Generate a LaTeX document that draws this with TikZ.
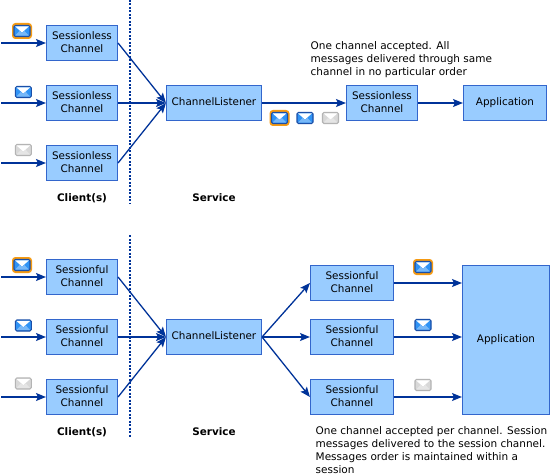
\documentclass[tikz,border=0pt]{standalone}
\usepackage{fontspec}
\setmainfont{DejaVu Sans}
\usetikzlibrary{arrows.meta}
\definecolor{boxfill}{HTML}{99CCFF}
\definecolor{boxline}{HTML}{3366CC}
\definecolor{conn}{HTML}{003399}
\definecolor{mailblue}{HTML}{2F93F5}
\definecolor{mailedge}{HTML}{1A4FA8}
\definecolor{ring}{HTML}{F59A12}
\definecolor{grayedge}{HTML}{B4B4B4}
\definecolor{grayfill}{HTML}{D8D8D8}
\tikzset{
  chan/.style={draw=boxline,line width=1.1pt,fill=boxfill,inner sep=0pt,align=center,font=\fontsize{10.4}{13}\selectfont,minimum width=71pt,minimum height=35pt,text depth=2pt},
  lst/.style={chan,minimum width=95pt},
  conn/.style={draw=conn,line width=1.3pt,-{Stealth[length=10pt,width=8pt,inset=2pt]}},
  divider/.style={draw=conn,line width=1.2pt,dash pattern=on 2pt off 1.5pt},
  lab/.style={font=\bfseries\fontsize{10.4}{12}\selectfont,inner sep=0pt},
  note/.style={font=\fontsize{10.5}{13}\selectfont,align=left,inner sep=0pt,anchor=north west},
  pics/mail/.style n args={3}{code={
    \draw[draw=#1,fill=#2,line width=1.1pt,rounded corners=1.5pt] (-8,-5.5) rectangle (8,5.5);
    \fill[#3] (-7,-4.7) -- (7,-4.7) -- (0,1.5) -- cycle;
    \fill[#3,opacity=.35] (-7,4.7) -- (-2.5,0) -- (0,2) -- (2.5,0) -- (7,4.7) -- cycle;
  }},
  pics/mailhi/.style={code={
    \draw[draw=ring,fill=ring,line width=1pt,rounded corners=3pt] (-9.5,-7.5) rectangle (9.5,7.5);
    \pic {mail={mailedge}{mailblue}{white}};
  }},
}
\begin{document}
\begin{tikzpicture}[x=1pt,y=-1pt]
\useasboundingbox (0,0) rectangle (552,476);
\fill[white] (0,0) rectangle (552,476);
% top
\node[chan] (a1) at (82,43) {Sessionless\\Channel};
\node[chan] (a2) at (82,103) {Sessionless\\Channel};
\node[chan] (a3) at (82,163) {Sessionless\\Channel};
\node[lst] (al) at (214,103) {ChannelListener};
\node[chan] (as) at (382,103) {Sessionless\\Channel};
\node[chan,minimum width=83pt] (aa) at (505,103) {Application};
\coordinate (s1) at (1,43); \coordinate (s2) at (1,103); \coordinate (s3) at (1,163);
\draw[conn] (s1) -- (a1.west);
\draw[conn] (s2) -- (a2.west);
\draw[conn] (s3) -- (a3.west);
\draw[conn] (a1.east) -- (al.west);
\draw[conn] (a2.east) -- (al.west);
\draw[conn] (a3.east) -- (al.west);
\draw[conn] (al.east) -- (as.west);
\draw[conn] (as.east) -- (aa.west);
\coordinate (d1) at (130,0); \coordinate (d2) at (130,204);
\draw[divider] (d1) -- (d2);
\node[lab] (c1) at (82,198) {Client(s)};
\node[lab] (v1) at (214,198) {Service};
\node[note] (n1) at (310.5,41) {One channel accepted. All\\messages delivered through same\\channel in no particular order};
\pic at (22,31) {mailhi};
\pic at (23.3,92) {mail={mailedge}{mailblue}{white}};
\pic at (23.3,150) {mail={grayedge}{grayfill}{white}};
\pic at (279.5,118) {mailhi};
\pic at (305,118) {mail={mailedge}{mailblue}{white}};
\pic at (330.5,118) {mail={grayedge}{grayfill}{white}};
% bottom
\node[chan] (b1) at (82,277) {Sessionful\\Channel};
\node[chan] (b2) at (82,337) {Sessionful\\Channel};
\node[chan] (b3) at (82,397) {Sessionful\\Channel};
\node[lst] (bl) at (214,337) {ChannelListener};
\node[chan,minimum width=83pt] (r1) at (352,283) {Sessionful\\Channel};
\node[chan,minimum width=83pt] (r2) at (352,337) {Sessionful\\Channel};
\node[chan,minimum width=83pt] (r3) at (352,397) {Sessionful\\Channel};
\node[chan,minimum width=87pt,minimum height=149pt] (ba) at (506,340) {Application};
\coordinate (t1) at (1,277); \coordinate (t2) at (1,337); \coordinate (t3) at (1,397);
\draw[conn] (t1) -- (b1.west);
\draw[conn] (t2) -- (b2.west);
\draw[conn] (t3) -- (b3.west);
\draw[conn] (b1.east) -- (bl.west);
\draw[conn] (b2.east) -- (bl.west);
\draw[conn] (b3.east) -- (bl.west);
\draw[conn] (bl.east) -- (r1.west);
\draw[conn] (bl.east) -- (r2.west);
\draw[conn] (bl.east) -- (r3.west);
\draw[conn] (r1.east) -- (r1.east -| ba.west);
\draw[conn] (r2.east) -- (r2.east -| ba.west);
\draw[conn] (r3.east) -- (r3.east -| ba.west);
\coordinate (e1) at (130,235); \coordinate (e2) at (130,438);
\draw[divider] (e1) -- (e2);
\node[lab] (c2) at (82,432) {Client(s)};
\node[lab] (v2) at (214,432) {Service};
\node[note] (n2) at (315.5,426) {One channel accepted per channel. Session\\messages delivered to the session channel.\\Messages order is maintained within a\\session};
\pic at (22,265) {mailhi};
\pic at (23.3,325.5) {mail={mailedge}{mailblue}{white}};
\pic at (23.3,383.5) {mail={grayedge}{grayfill}{white}};
\pic at (423,267) {mailhi};
\pic at (423,325) {mail={mailedge}{mailblue}{white}};
\pic at (423,385) {mail={grayedge}{grayfill}{white}};
\end{tikzpicture}
\end{document}
